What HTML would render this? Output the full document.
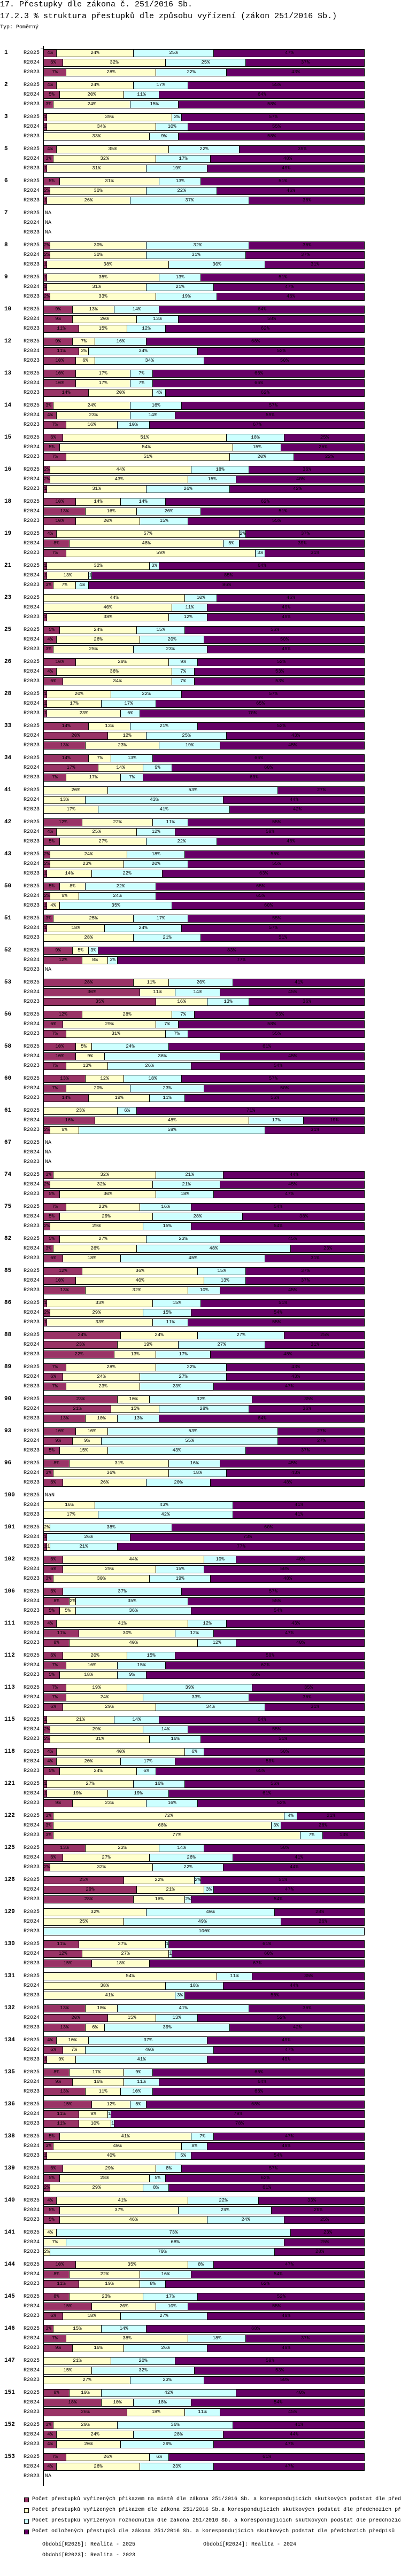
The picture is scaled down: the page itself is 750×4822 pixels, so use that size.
<!DOCTYPE html>
<html><head><meta charset="utf-8">
<style>
html,body{margin:0;padding:0;background:#fff;}
body{width:750px;height:4822px;position:relative;overflow:hidden;font-family:"Liberation Mono",monospace;color:#000;}
.t{position:absolute;white-space:nowrap;}
.bar{position:absolute;height:15px;box-sizing:border-box;border:1px solid #000;overflow:hidden;display:flex;}
.seg{height:100%;box-sizing:border-box;border-right:1px solid #000;overflow:hidden;text-align:center;font-size:9px;line-height:13px;white-space:nowrap;flex:none;}
.seg:last-child{border-right:none;}
</style></head>
<body>
<div class="t" style="left:0;top:0;font-size:15px;line-height:17px;">17. Přestupky dle zákona č. 251/2016 Sb.</div>
<div class="t" style="left:0;top:22px;font-size:15px;line-height:17px;">17.2.3 % struktura přestupků dle způsobu vyřízení (zákon 251/2016 Sb.)</div>
<div class="t" style="left:0;top:46px;font-size:10px;line-height:12px;">Typ: Poměrný</div>
<div id="chart"></div>
<div style="position:absolute;left:80px;top:86px;width:2px;height:4567px;background:#000;"></div>
<div style="position:absolute;left:76px;top:91px;width:5px;height:1px;background:#000;"></div>

<div id="legend"></div>
<div class="t" style="left:79px;top:4758px;font-size:10px;">Období[R2025]: Realita - 2025</div>
<div class="t" style="left:380px;top:4758px;font-size:10px;">Období[R2024]: Realita - 2024</div>
<div class="t" style="left:79px;top:4778px;font-size:10px;">Období[R2023]: Realita - 2023</div>

<script>
const categories = ["1","2","3","5","6","7","8","9","10","12","13","14","15","16","18","19","21","23","25","26","28","33","34","41","42","43","50","51","52","53","56","58","60","61","67","74","75","82","85","86","88","89","90","93","96","100","101","102","106","111","112","113","115","118","121","122","125","126","129","130","131","132","134","135","136","138","139","140","141","144","145","146","147","151","152","153"];
const periods = ["R2025","R2024","R2023"];
const seriesNames = [
 "Počet přestupků vyřízených příkazem na místě dle zákona 251/2016 Sb. a korespondujících skutkových podstat dle předchozích předpisů",
 "Počet přestupků vyřízených příkazem dle zákona 251/2016 Sb.a korespondujících skutkových podstat dle předchozích předpisů",
 "Počet přestupků vyřízených rozhodnutím dle zákona 251/2016 Sb. a korespondujících skutkových podstat dle předchozích předpisů",
 "Počet odložených přestupků dle zákona 251/2016 Sb. a korespondujících skutkových podstat dle předchozích předpisů"];
const seriesColors = ["#993366","#FFFFCC","#CCFFFF","#660066"];
const y2025 = [[4,24,25,47],[4,24,17,55],[1,39,3,57],[4,35,22,39],[5,31,13,51],null,[2,30,32,36],[1,35,13,51],[9,13,14,64],[9,7,16,68],
[10,17,7,66],[3,24,16,57],[6,51,18,25],[2,44,18,36],[10,14,14,62],[4,57,2,37],[1,32,3,64],[0,44,10,46],[5,24,15,56],[10,29,9,52],
[1,20,22,57],[14,13,21,52],[14,7,13,66],[0,20,53,27],[12,22,11,55],[2,24,18,56],[5,8,22,65],[3,25,17,55],[9,5,3,83],[28,11,20,41],
[12,28,7,53],[10,5,24,61],[13,12,18,57],[0,23,6,71],null,[3,32,21,44],[7,23,16,54],[5,27,23,45],[12,36,15,37],[1,33,15,51],
[24,24,27,25],[7,28,22,43],[23,10,32,35],[10,10,53,27],[8,31,16,45],"NaN",[0,2,38,60],[6,44,10,40],[6,0,37,57],[4,41,12,43],
[6,20,15,59],[7,19,39,35],[1,21,14,64],[4,40,6,50],[1,27,16,56],[3,72,4,21],[13,23,14,50],[25,22,2,51],[0,32,40,28],[11,27,1,61],
[0,54,11,35],[13,10,41,36],[4,10,37,49],[8,17,9,66],[15,12,5,68],[5,41,7,47],[6,29,8,57],[4,41,22,33],[0,4,73,23],[10,35,8,47],
[8,23,17,52],[3,15,14,68],[0,21,20,59],[8,10,42,40],[3,20,36,41],[7,26,6,61]];
const y2024 = [[6,32,25,37],[5,20,11,64],[1,34,10,55],[3,32,17,48],[2,30,22,46],null,[2,30,31,37],[1,31,21,47],[9,20,13,58],[11,3,34,52],
[10,17,7,66],[4,23,14,59],[5,54,15,26],[2,43,15,40],[13,16,20,51],[8,48,5,39],[1,13,1,85],[0,40,11,49],[4,26,20,50],[4,36,7,53],
[1,17,17,65],[20,12,25,43],[17,14,9,60],[0,13,43,44],[4,25,12,59],[2,23,20,55],[2,9,24,65],[1,18,24,57],[12,8,3,77],[30,11,14,45],
[6,29,7,58],[10,9,36,45],[7,20,23,50],[16,48,17,19],null,[2,32,21,45],[5,29,28,38],[3,26,48,23],[10,40,13,37],[2,29,15,54],
[23,19,27,31],[6,24,27,43],[21,15,28,36],[9,9,55,27],[3,36,18,43],[0,16,43,41],[1,0,26,73],[6,29,15,50],[8,2,35,55],[11,30,12,47],
[7,16,15,62],[7,24,33,36],[2,29,14,55],[4,20,17,59],[1,19,19,61],[3,68,3,26],[6,27,26,41],[29,21,3,47],[0,25,49,26],[12,27,1,60],
[0,38,18,44],[20,15,13,52],[6,7,40,47],[9,16,11,64],[11,9,1,79],[3,40,8,49],[5,28,5,62],[5,37,29,29],[0,7,68,25],[8,22,16,54],
[15,20,10,55],[7,38,18,37],[0,15,32,53],[18,10,18,54],[4,24,28,44],[4,26,23,47]];
const y2023 = [[7,28,22,43],[3,24,15,58],[0,33,9,58],[1,31,19,49],[1,26,37,36],null,[1,38,30,31],[2,33,19,46],[11,15,12,62],[10,6,34,50],
[14,20,4,62],[7,16,10,67],[7,51,20,22],[1,31,26,42],[10,20,15,55],[7,59,3,31],[3,7,4,86],[1,38,12,49],[3,25,23,49],[6,34,7,53],
[1,23,6,70],[13,23,19,45],[7,17,7,69],[0,17,41,42],[5,27,22,46],[1,14,22,63],[1,4,35,60],[0,28,21,51],null,[35,16,13,36],
[7,31,7,55],[7,13,26,54],[14,19,11,56],[2,9,58,31],null,[5,30,18,47],[2,29,15,54],[6,18,45,31],[13,32,10,45],[1,33,11,55],
[22,13,17,48],[7,23,23,47],[13,10,13,64],[5,15,43,37],[6,26,20,48],[0,17,42,41],[1,1,21,77],[3,30,19,48],[5,5,36,54],[8,40,12,40],
[5,18,9,68],[6,29,34,31],[2,31,16,51],[5,24,6,65],[9,23,16,52],[3,77,7,13],[2,32,22,44],[28,16,2,54],[0,0,100,0],[15,18,0,67],
[0,41,3,56],[13,6,39,42],[1,9,41,49],[13,11,10,66],[11,10,1,78],[1,40,5,54],[2,29,8,61],[5,46,24,25],[0,2,70,28],[11,19,8,62],
[6,18,27,49],[9,16,26,49],[0,27,23,50],[26,18,11,45],[4,20,29,47],null];

const X0 = 81, BARW = 600, TOP = 92, GROUP = 60, ROW = 18;
function xScale(pct){ return pct / 100 * BARW; }
function yGroup(g){ return TOP + g * GROUP; }

const chart = document.getElementById('chart');
const yearData = [y2025, y2024, y2023];
categories.forEach((cat, g) => {
  const gl = document.createElement('div');
  gl.className = 't';
  
  
  gl.style.cssText = 'left:8px;top:' + (yGroup(g) + 1) + 'px;font-size:11px;font-weight:bold;line-height:13px;';
  gl.textContent = cat;
  chart.appendChild(gl);
  periods.forEach((p, r) => {
    const y = yGroup(g) + r * ROW;
    const rl = document.createElement('div');
    rl.className = 't';
    
    
    rl.style.cssText = 'left:44px;top:' + (y + 1) + 'px;font-size:10px;line-height:13px;';
    rl.textContent = p;
    chart.appendChild(rl);
    const vals = yearData[r][g];
    if (!Array.isArray(vals)) {
      const na = document.createElement('div');
      na.className = 't';
      
      
      na.style.cssText = 'left:84px;top:' + (y + 1) + 'px;font-size:10px;line-height:13px;';
      na.textContent = vals === 'NaN' ? 'NaN' : 'NA';
      chart.appendChild(na);
      return;
    }
    const sum = vals.reduce((a, b) => a + b, 0);
    const bar = document.createElement('div');
    bar.className = 'bar';
    
    
    bar.style.left = X0 + 'px';
    bar.style.top = y + 'px';
    bar.style.width = (BARW + 1) + 'px';
    vals.forEach((v, s) => {
      if (v <= 0) return;
      const seg = document.createElement('div');
      seg.className = 'seg';
      
      
      seg.style.width = xScale(v / sum * 100) + 'px';
      seg.style.background = seriesColors[s];
      seg.textContent = v + '%';
      bar.appendChild(seg);
    });
    chart.appendChild(bar);
  });
});

const legend = document.getElementById('legend');
seriesNames.forEach((n, i) => {
  const y = 4673 + i * 20;
  const sw = document.createElement('div');
  
  
  sw.style.cssText = 'position:absolute;left:45px;top:' + (y + 2) + 'px;width:7px;height:7px;border:1px solid #000;background:' + seriesColors[i] + ';';
  legend.appendChild(sw);
  const tx = document.createElement('div');
  tx.className = 't';
  
  
  tx.style.cssText = 'left:60px;top:' + y + 'px;width:690px;overflow:hidden;font-size:10px;line-height:12px;';
  tx.textContent = n;
  legend.appendChild(tx);
});
</script>
</body></html>
